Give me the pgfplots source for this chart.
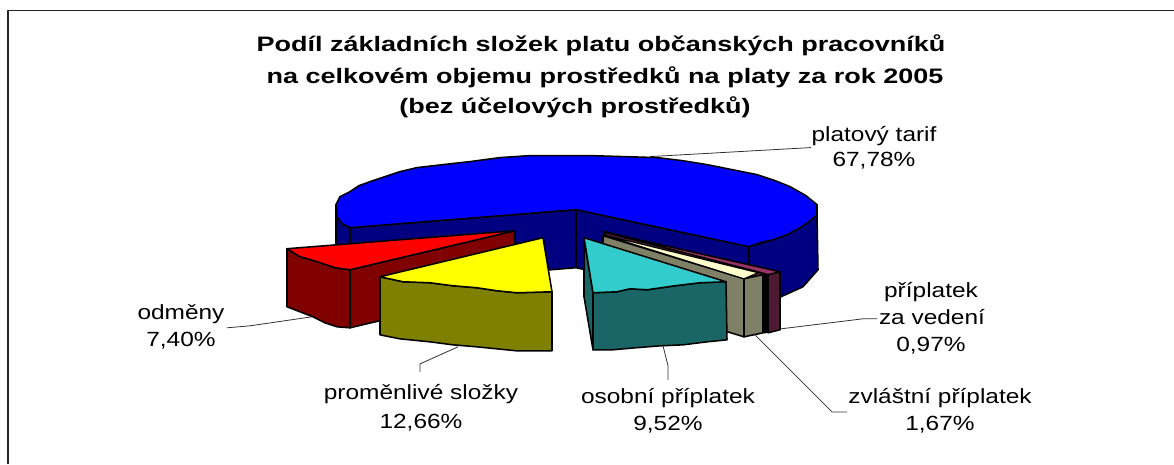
\documentclass[border=0pt]{standalone}
\usepackage{fontspec}
\setmainfont{Liberation Sans}
\newfontfamily\labfont{Liberation Sans}[FakeStretch=1.19]
\newfontfamily\ttlfont{Liberation Sans}[FakeStretch=1.29]
\usepackage{pgfplots}
\pgfplotsset{compat=1.18}

% colours
\definecolor{blueTop}{RGB}{0,0,255}
\definecolor{blueSide}{RGB}{0,0,128}
\definecolor{redTop}{RGB}{255,0,0}
\definecolor{redSide}{RGB}{128,0,0}
\definecolor{yelTop}{RGB}{255,255,0}
\definecolor{yelSide}{RGB}{128,128,0}
\definecolor{tealTop}{RGB}{51,204,204}
\definecolor{tealSide}{RGB}{26,102,102}
\definecolor{creamTop}{RGB}{255,255,204}
\definecolor{khaki}{RGB}{128,128,102}
\definecolor{plumTop}{RGB}{153,51,102}
\definecolor{plumSide}{RGB}{77,25,51}
\definecolor{leader}{RGB}{50,50,50}

\newcommand{\lab}{\labfont\fontsize{15.4}{18}\selectfont}
\newcommand{\ttl}{\ttlfont\fontsize{15.7}{18}\selectfont\bfseries}

\begin{document}
\begin{tikzpicture}
\path[use as bounding box] (0,0) rectangle (880.5pt,348pt);
\begin{axis}[
    scale only axis, width=880.5pt, height=348pt,
    xmin=0, xmax=1174, ymin=0, ymax=464,
    y dir=reverse, hide axis, no marks,
    every axis plot/.append style={draw=black, line width=1.15pt, line join=round},
]
% frame
\addplot[draw=black!85, line width=1.1pt, forget plot] coordinates {(8,464) (8,11) (1174,11)};

% leader lines
\addplot[leader, line width=0.6pt] coordinates {(650,157) (811,148)};
\addplot[leader, line width=0.6pt] coordinates {(250,326) (227,328)};
\addplot[leader, line width=0.6pt] coordinates {(250,326) (312,317)};
\addplot[leader, line width=0.6pt] coordinates {(458,347) (420,364) (420,372)};
\addplot[leader, line width=0.6pt] coordinates {(663,346) (668,366) (668,380)};
\addplot[leader, line width=0.6pt] coordinates {(755,335) (832,412) (847,412)};
\addplot[leader, line width=0.6pt] coordinates {(781,329) (863,319) (877,319)};

% blue slice: walls first, then the top
\addplot[fill=blueSide] coordinates {(336,205) (337,217) (350,228) (576,210) (749,247) (773,240) (800,228) (817,215)
  (818,270) (803,287) (781,297) (749,305) (576,268) (350,286) (336,286)} --cycle;
\addplot[draw=black, line width=1.05pt] coordinates {(350,228) (350,250)};
\addplot[draw=black, line width=1.05pt] coordinates {(576,210) (576,268)};
\addplot[draw=black, line width=1.05pt] coordinates {(749,247) (749,274)};
\addplot[fill=blueTop] coordinates {(336,205) (340,197) (350,192) (359,186) (370,182) (385,177) (400,172) (417,168)
  (443,165) (470,162) (500,158) (530,156) (560,156) (590,156) (623,157) (657,158) (682,161) (707,165) (732,170)
  (757,175) (775,181) (790,187) (806,196) (817,205) (817,215) (809,222) (800,228) (787,235) (773,240) (760,243) (749,247)
  (576,210) (350,228) (342,224) (337,217)} --cycle;

% red slice
\addplot[fill=redSide] coordinates {(350,270) (515,231) (515,289) (350,328)} --cycle;
\addplot[fill=redSide] coordinates {(287,249) (300,257) (311,260) (320,263) (335,268) (350,270) (350,328) (337,327)
  (325,323) (313,317) (300,312) (287,307)} --cycle;
\addplot[fill=redTop] coordinates {(287,249) (515,231) (350,270) (335,268) (320,263) (311,260) (300,257)} --cycle;

% yellow slice
\addplot[fill=yelSide] coordinates {(380,277) (403,282) (430,283) (453,286) (477,288) (497,291) (517,293) (552,292)
  (552,351) (517,351) (497,349) (477,347) (453,345) (430,342) (400,339) (380,335)} --cycle;
\addplot[fill=yelTop] coordinates {(380,277) (543,238) (552,292) (517,293) (497,291) (477,288) (453,286) (430,283) (403,282)} --cycle;

% plum slice (příplatek za vedení)
\addplot[fill=plumSide] coordinates {(605,232) (765,274) (765,333) (605,290)} --cycle;
\addplot[fill=plumSide] coordinates {(768,275) (780,272) (780,330) (768,333)} --cycle;
\addplot[fill=plumTop] coordinates {(603,232) (780,272) (768,275) (765,274)} --cycle;
\addplot[fill=black, line width=0.5pt] coordinates {(764,275) (767,275) (767,333) (764,333)} --cycle;

% khaki slice with the cream top (zvláštní příplatek)
\addplot[fill=khaki] coordinates {(603,236) (744,279) (744,337) (603,294)} --cycle;
\addplot[fill=khaki] coordinates {(744,279) (763,275) (763,333) (744,337)} --cycle;
\addplot[fill=creamTop, line width=0.8pt] coordinates {(603,235) (758,273) (744,279)} --cycle;

% teal slice
\addplot[fill=tealSide] coordinates {(584,238) (593,293) (593,350) (584,297)} --cycle;
\addplot[fill=tealSide] coordinates {(593,293) (617,292) (630,289) (647,290) (675,286) (700,283) (726,282)
  (727,340) (707,342) (683,345) (660,346) (635,348) (612,350) (593,350)} --cycle;
\addplot[fill=tealTop] coordinates {(584,238) (726,282) (700,283) (675,286) (647,290) (630,289) (617,292) (593,293)} --cycle;

% title
\node[anchor=base, font=\ttl] at (axis cs:601,52) {Podíl základních složek platu občanských pracovníků};
\node[anchor=base, font=\ttl] at (axis cs:605,84) {na celkovém objemu prostředků na platy za rok 2005};
\node[anchor=base, font=\ttl] at (axis cs:575,114) {(bez účelových prostředků)};

% slice labels
\node[anchor=base, font=\lab] at (axis cs:874,142) {platový tarif};
\node[anchor=base, font=\lab] at (axis cs:874,167) {67,78\%};
\node[anchor=base, font=\lab] at (axis cs:181,320) {odměny};
\node[anchor=base, font=\lab] at (axis cs:181,347) {7,40\%};
\node[anchor=base, font=\lab] at (axis cs:421,400) {proměnlivé složky};
\node[anchor=base, font=\lab] at (axis cs:421,429) {12,66\%};
\node[anchor=base, font=\lab] at (axis cs:668,404) {osobní příplatek};
\node[anchor=base, font=\lab] at (axis cs:668,431) {9,52\%};
\node[anchor=base, font=\lab] at (axis cs:940,404) {zvláštní příplatek};
\node[anchor=base, font=\lab] at (axis cs:940,431) {1,67\%};
\node[anchor=base, font=\lab] at (axis cs:931,298) {příplatek};
\node[anchor=base, font=\lab] at (axis cs:932,325) {za vedení};
\node[anchor=base, font=\lab] at (axis cs:931,352) {0,97\%};
\end{axis}
\end{tikzpicture}
\end{document}
